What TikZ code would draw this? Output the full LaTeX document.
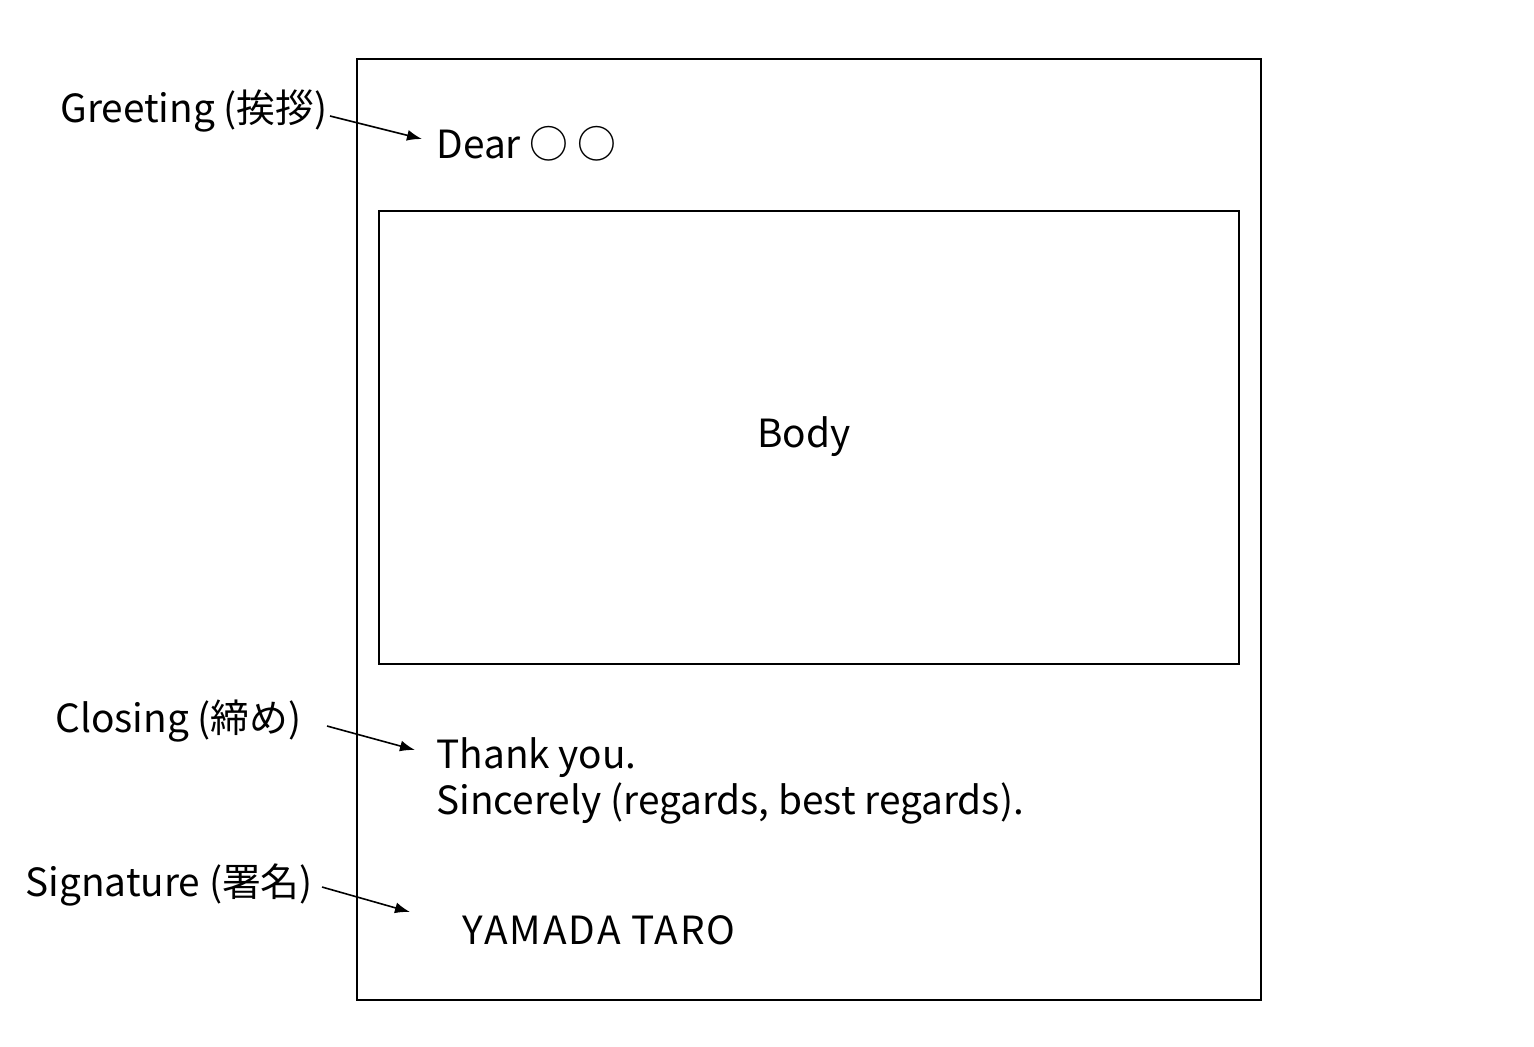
\documentclass[tikz,border=0pt]{standalone}
\usepackage{fontspec}
\setmainfont{Noto Sans CJK JP}
\usetikzlibrary{arrows.meta,positioning}

\tikzset{
	txt/.style={inner sep=0pt, anchor=base west, font=\fontsize{19.4}{23}\selectfont},
	arr/.style={-{Latex[length=7.5pt,width=5.5pt]}, line width=0.8pt},
	box/.style={draw, line width=0.8pt, inner sep=0pt}
}

\begin{document}
\begin{tikzpicture}[x=0.5pt,y=-0.5pt]

	\useasboundingbox (0,0) rectangle (1534,1046);

	% letter frame and body
	\node[box, minimum width=452pt, minimum height=470.5pt] (page) at (809,529.5) {};
	\node[box, minimum width=430pt, minimum height=226.5pt] (body) at (809,437.5) {};
	\node[font=\fontsize{19.4}{23}\selectfont, inner sep=0pt] (bodytxt) at (804,437) {Body};

	% letter text
	\node[txt] (dear) at (436,158) {Dear ○ ○};
	\node[txt, align=left] (thanks) at (436,814) {Thank you.\\Sincerely (regards, best regards).};
	\node[txt] (name) at (462,944) {\addfontfeature{LetterSpace=5}YAMADA TARO};

	% labels
	\node[txt] (greet) at (60,122) {Greeting (挨拶)};
	\node[txt] (close) at (55,732) {Closing (締め)};
	\node[txt] (sign) at (25,896) {Signature (署名)};

	\coordinate (greetA) at (330,116);
	\coordinate (greetB) at (422,139);
	\coordinate (closeA) at (327,726);
	\coordinate (closeB) at (415,750);
	\coordinate (signA) at (322,887);
	\coordinate (signB) at (410,912);

	\draw[arr] (greetA) -- (greetB);
	\draw[arr] (closeA) -- (closeB);
	\draw[arr] (signA) -- (signB);

\end{tikzpicture}
\end{document}
